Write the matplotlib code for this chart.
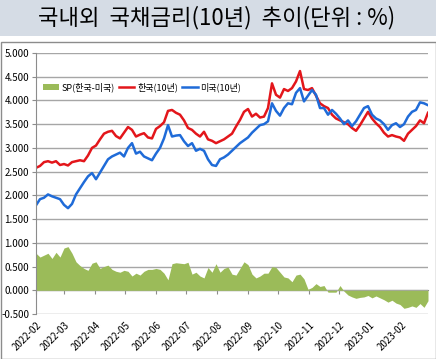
import numpy as np
import pandas as pd
import matplotlib
matplotlib.use("Agg")
import matplotlib.pyplot as plt
from matplotlib.patches import Rectangle

plt.rcParams['font.family'] = ['Noto Sans CJK KR', 'DejaVu Sans']

# sampled every 4 days from 2022-02-01
start = "2022-02-01"
korea = [2.58, 2.62, 2.70, 2.72, 2.69, 2.72, 2.64, 2.66, 2.63, 2.70,
         2.72, 2.74, 2.72, 2.84, 3.00, 3.05, 3.18, 3.30, 3.34, 3.36,
         3.25, 3.20, 3.32, 3.44, 3.38, 3.24, 3.28, 3.31, 3.22, 3.20,
         3.40, 3.46, 3.54, 3.78, 3.80, 3.74, 3.70, 3.58, 3.42, 3.38,
         3.30, 3.24, 3.34, 3.18, 3.15, 3.10, 3.14, 3.18, 3.24, 3.30,
         3.45, 3.59, 3.76, 3.82, 3.66, 3.72, 3.64, 3.66, 3.84, 4.36,
         4.12, 4.06, 4.24, 4.20, 4.26, 4.40, 4.62, 4.24, 4.22, 4.26,
         4.10, 3.94, 3.88, 3.84, 3.70, 3.62, 3.58, 3.54, 3.50, 3.42,
         3.36, 3.48, 3.62, 3.76, 3.62, 3.52, 3.44, 3.32, 3.24, 3.27,
         3.24, 3.22, 3.15, 3.30, 3.38, 3.46, 3.58, 3.52, 3.74]
usa = [1.79, 1.92, 1.95, 2.02, 1.98, 1.95, 1.92, 1.80, 1.73, 1.82,
       2.02, 2.15, 2.28, 2.40, 2.47, 2.34, 2.48, 2.62, 2.76, 2.82,
       2.86, 2.90, 2.82, 3.00, 3.10, 2.88, 2.92, 2.82, 2.78, 2.74,
       2.88, 3.00, 3.20, 3.48, 3.24, 3.26, 3.27, 3.14, 3.04, 3.10,
       2.94, 2.98, 2.94, 2.76, 2.64, 2.62, 2.76, 2.80, 2.86, 2.94,
       3.02, 3.10, 3.16, 3.22, 3.32, 3.40, 3.48, 3.50, 3.56, 3.94,
       3.78, 3.68, 3.84, 3.94, 3.92, 4.16, 4.26, 3.98, 4.10, 4.22,
       4.12, 3.84, 3.84, 3.70, 3.80, 3.72, 3.62, 3.50, 3.58, 3.46,
       3.56, 3.70, 3.84, 3.88, 3.70, 3.62, 3.58, 3.50, 3.38, 3.48,
       3.52, 3.44, 3.50, 3.66, 3.76, 3.80, 3.96, 3.94, 3.90]
spread = [0.78, 0.70, 0.74, 0.78, 0.67, 0.80, 0.70, 0.89, 0.92, 0.78,
          0.60, 0.52, 0.46, 0.42, 0.57, 0.60, 0.46, 0.50, 0.53, 0.44,
          0.40, 0.38, 0.42, 0.40, 0.30, 0.36, 0.32, 0.40, 0.44, 0.44,
          0.46, 0.44, 0.36, 0.22, 0.56, 0.58, 0.57, 0.56, 0.59, 0.34,
          0.38, 0.30, 0.26, 0.48, 0.38, 0.56, 0.38, 0.46, 0.49, 0.34,
          0.32, 0.46, 0.60, 0.54, 0.34, 0.26, 0.30, 0.36, 0.36, 0.50,
          0.48, 0.38, 0.28, 0.26, 0.18, 0.32, 0.34, 0.24, 0.02, 0.06,
          0.14, 0.08, 0.10, -0.04, -0.04, -0.04, 0.10, -0.02, -0.10, -0.14,
          -0.17, -0.15, -0.14, -0.11, -0.16, -0.12, -0.16, -0.20, -0.25, -0.21,
          -0.27, -0.30, -0.38, -0.36, -0.33, -0.36, -0.28, -0.36, -0.22]

title = "국내외  국채금리(10년)  추이(단위 : %)"
yticks = [-0.5, 0, 0.5, 1.0, 1.5, 2.0, 2.5, 3.0, 3.5, 4.0, 4.5, 5.0]

dates = pd.date_range(start, periods=len(korea), freq="4D")
months = pd.date_range("2022-02-01", "2023-02-01", freq="MS")

W, H = 436, 359
fig = plt.figure(figsize=(W / 100, H / 100), dpi=100)
fig.patch.set_facecolor("white")

# title band
fig.patches.append(Rectangle((0, 1 - 36 / H), 1, 36 / H, transform=fig.transFigure,
                             facecolor="#D5DCE5", edgecolor="none", zorder=0))
fig.text(0.497, 1 - 18 / H, title, ha="center", va="center", fontsize=16,
         fontweight="medium", color="black")
# chart frame
fig.patches.append(Rectangle((0.5 / W, 0.5 / H), 1 - 1 / W, (H - 42) / H,
                             transform=fig.transFigure, facecolor="none",
                             edgecolor="#8C8C8C", linewidth=1, zorder=0))

ax = fig.add_axes([36 / W, 45 / H, (428 - 36) / W, (314 - 53) / H])
ax.fill_between(dates, spread, 0, color="#9BBB59", linewidth=0, label="SP(한국-미국)")
ax.plot(dates, korea, color="#E3161B", linewidth=1.8, label="한국(10년)")
ax.plot(dates, usa, color="#1F6BD8", linewidth=1.8, label="미국(10년)")

ax.set_ylim(-0.5, 5.0)
ax.set_xlim(dates[0], dates[-1])
ax.set_yticks(yticks)
ax.set_yticklabels(["%.3f" % v for v in yticks], fontsize=7)
ax.grid(axis="y", color="#A6A6A6", linewidth=1)
ax.set_axisbelow(True)
for s in ["top", "right", "bottom"]:
    ax.spines[s].set_visible(False)
ax.spines["left"].set_color("#8C8C8C")
ax.tick_params(axis="y", length=3, color="#8C8C8C", pad=2)

ax.set_xticks(months)
ax.set_xticklabels([d.strftime("%Y-%m") for d in months], rotation=45,
                   ha="right", rotation_mode="anchor", fontsize=7)
ax.tick_params(axis="x", length=0, pad=4)

# category axis line crossing at zero
sec = ax.secondary_xaxis(0.5 / 5.5)
sec.set_xticks(months)
sec.set_xticklabels([])
sec.spines["bottom"].set_color("#8C8C8C")
sec.tick_params(length=3, color="#8C8C8C")

ax.legend(loc="upper left", bbox_to_anchor=(0.0, 0.915), ncol=3, frameon=False,
          fontsize=6.5, handlelength=1.7, handleheight=0.6, handletextpad=0.3,
          columnspacing=0.5, borderpad=0.3)

fig.savefig("out.png", dpi=100)
